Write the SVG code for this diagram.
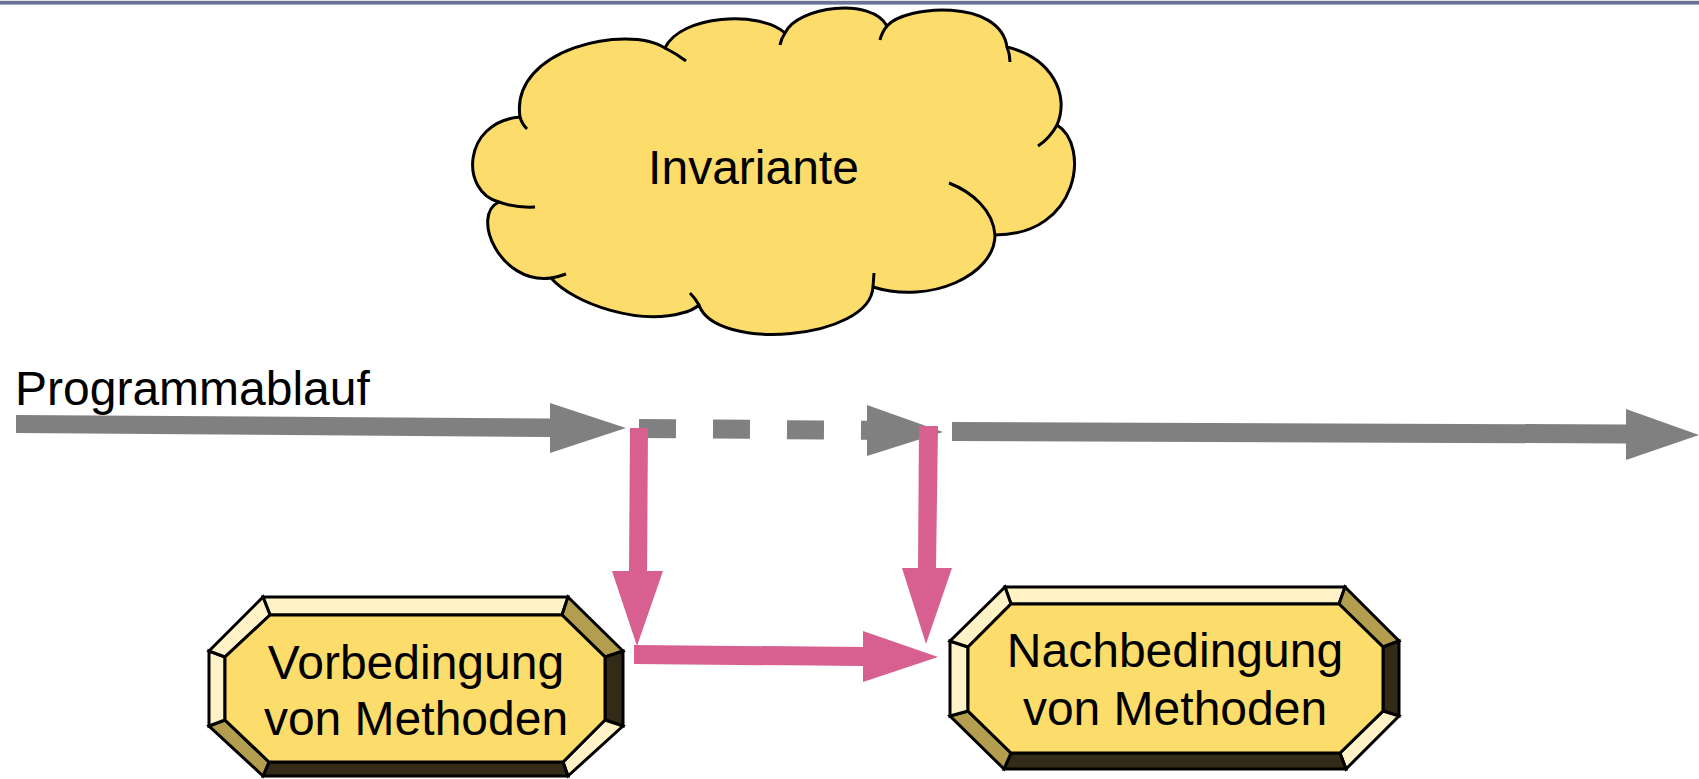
<svg xmlns="http://www.w3.org/2000/svg" width="1699" height="779" viewBox="0 0 1699 779">
<style>
.t{font-family:"Liberation Sans",Arial,sans-serif;font-size:48px;fill:#000}
.f{stroke:#000;stroke-width:3;stroke-linejoin:miter}
.lt{fill:#FFF2C6}
.ol{fill:#B39D4E}
.dk{fill:#332B17}
.face{fill:#FCDC6B}
.gray{fill:#808080}
.pink{fill:#D86090}
.cloud{fill:#FCDC6B;stroke:#000;stroke-width:3;stroke-linejoin:round}
.hook{fill:none;stroke:#000;stroke-width:3}
</style>
<rect x="0" y="0.8" width="1699" height="3.8" fill="#6B7394"/>

<g id="invariante">
<path class="cloud" d="M 520,117 C 510,48 628,24 665,48 C 680,15 760,10 785,33 C 798,6 872,-3 887,26 C 905,5 1000,-2 1007,47 C 1052,58 1070,95 1057,125 C 1090,145 1080,235 995,235 C 995,275 930,305 873,287 C 870,340 715,352 699,305 Q 692,311 682,313 C 640,325 575,305 551,278 C 500,285 470,215 499,202 C 460,192 462,122 520,117 Z"/>
<path class="hook" d="M 527,129 Q 522,124 520,117 M 665,48 Q 677,54 686,61 M 780,45 Q 781,39 785,33 M 880,40 Q 882,32 887,26 M 1007,47 Q 1010,54 1010,62 M 1057,125 Q 1050,138 1038,146 M 949,183 C 972,192 993,210 995,235 M 874,273 L 873,287 M 699,305 Q 695,298 690,293 M 566,274 Q 558,277 551,278 M 499,202 Q 515,208 535,207"/>
<text class="t" x="753.5" y="184" text-anchor="middle">Invariante</text>
</g>

<g id="programmablauf-label">
<text class="t" x="15" y="405">Programmablauf</text>
</g>

<g id="connectors">
<polygon class="gray" points="16,415 550,418.5 550,403 626,428 550,453 550,437 16,433"/>
<line x1="639" y1="428.5" x2="900" y2="430.5" stroke="#808080" stroke-width="19" stroke-dasharray="37 37"/>
<polygon class="gray" points="867,405 943,432 867,456"/>
<polygon class="gray" points="952,422 1626,424.5 1626,409 1699,435 1626,460 1626,443.5 952,441"/>
<polygon class="pink" points="630,428 648,428 647,571 663,571 637,646 612,571 629,571"/>
<polygon class="pink" points="919,426 938,426 936,568 952,568 926,644 902,568 918,568"/>
<polygon class="pink" points="634,645 863,647 863,631 938,657 863,682 863,666 634,664"/>
</g>

<g id="vorbedingung">
<polygon class="f lt" points="263,597 568,597 562,615 270,615"/>
<polygon class="f ol" points="568,597 623,651 605,657 562,615"/>
<polygon class="f dk" points="623,651 623,726 605,720 605,657"/>
<polygon class="f lt" points="623,726 568,776 563,762 605,720"/>
<polygon class="f dk" points="568,776 263,776 269,762 563,762"/>
<polygon class="f ol" points="263,776 209,726 225,720 269,762"/>
<polygon class="f lt" points="209,726 209,651 225,657 225,720"/>
<polygon class="f lt" points="209,651 263,597 270,615 225,657"/>
<polygon class="f face" points="270,615 562,615 605,657 605,720 563,762 269,762 225,720 225,657"/>
<text class="t" x="416" y="679" text-anchor="middle">Vorbedingung</text>
<text class="t" x="416" y="735" text-anchor="middle">von Methoden</text>
</g>

<g id="nachbedingung">
<polygon class="f lt" points="1005,587 1345,587 1339,604 1011,604"/>
<polygon class="f ol" points="1345,587 1399,641 1383,647 1339,604"/>
<polygon class="f dk" points="1399,641 1399,716 1383,711 1383,647"/>
<polygon class="f lt" points="1399,716 1346,769 1340,753 1383,711"/>
<polygon class="f dk" points="1346,769 1004,769 1011,753 1340,753"/>
<polygon class="f ol" points="1004,769 950,716 968,711 1011,753"/>
<polygon class="f lt" points="950,716 950,641 968,647 968,711"/>
<polygon class="f lt" points="950,641 1005,587 1011,604 968,647"/>
<polygon class="f face" points="1011,604 1339,604 1383,647 1383,711 1340,753 1011,753 968,711 968,647"/>
<text class="t" x="1175" y="667" text-anchor="middle">Nachbedingung</text>
<text class="t" x="1175" y="725" text-anchor="middle">von Methoden</text>
</g>
</svg>
